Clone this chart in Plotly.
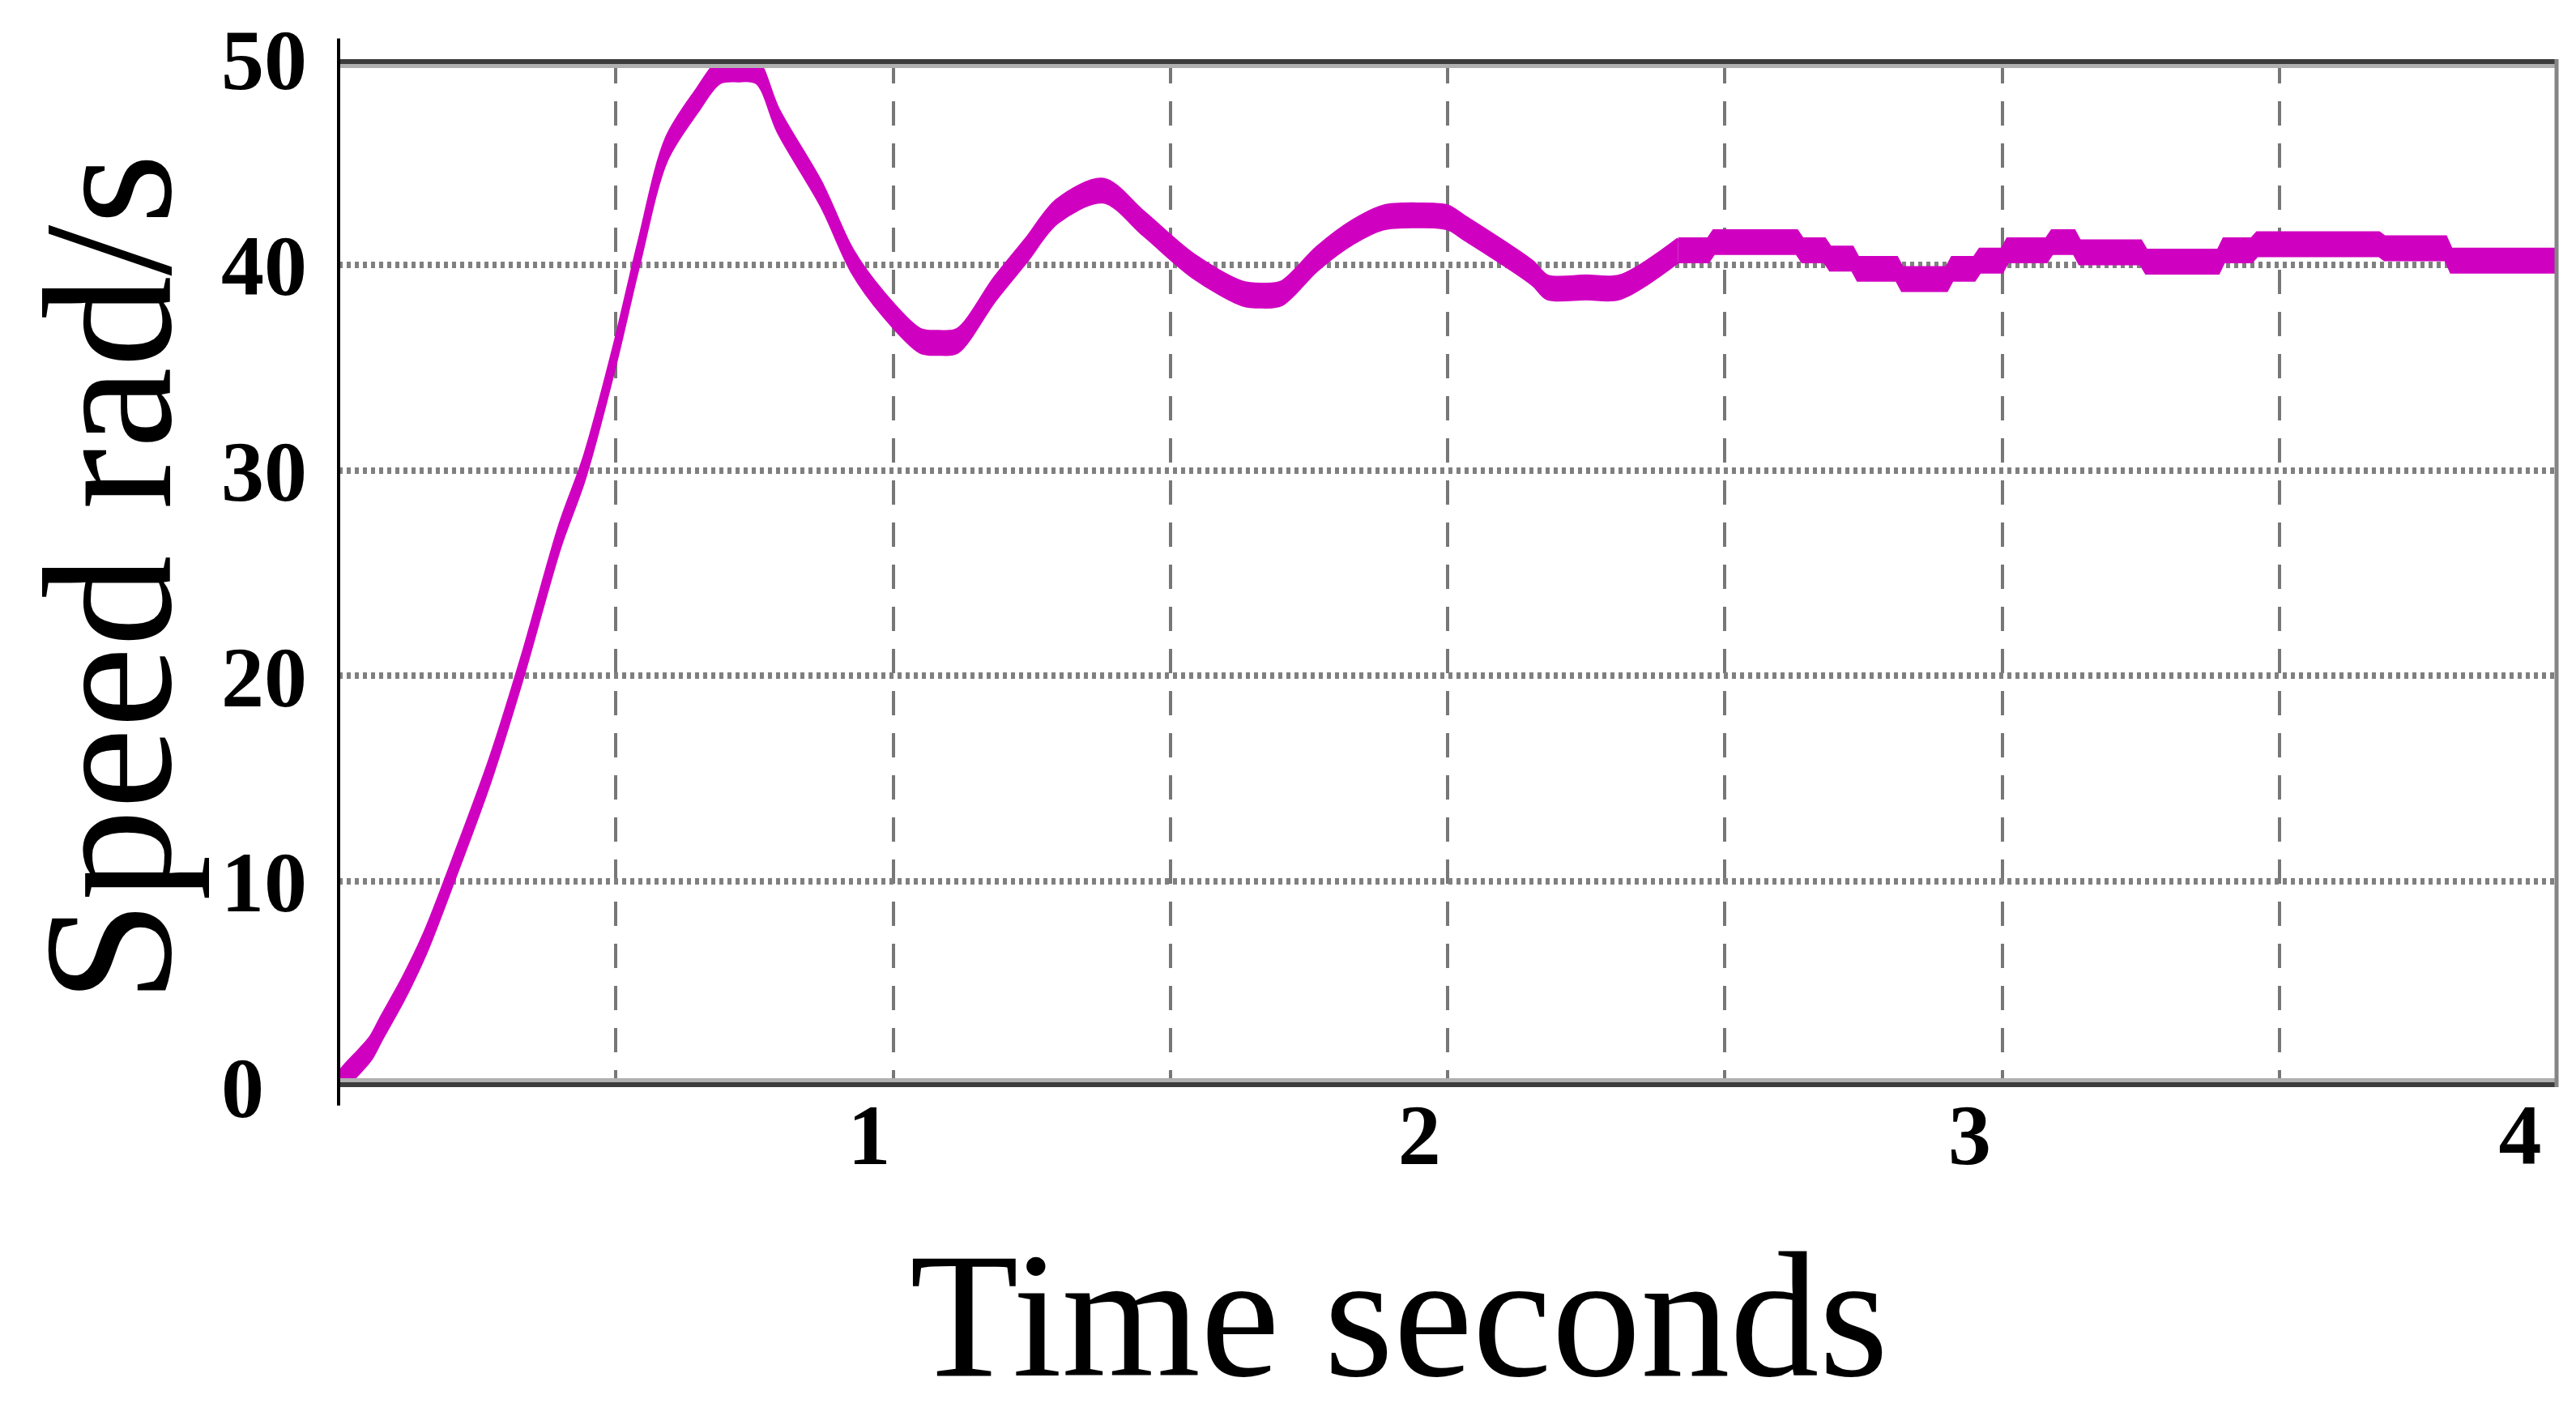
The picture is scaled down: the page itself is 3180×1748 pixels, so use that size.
import plotly.graph_objects as go

# ---- data (time in s, speed in rad/s) ----
time_s = [0.000, 0.005, 0.039, 0.058, 0.078, 0.117, 0.156, 0.209, 0.273, 0.331,
          0.399, 0.443, 0.497, 0.541, 0.591, 0.647, 0.687, 0.720, 0.754, 0.793,
          0.871, 0.926, 0.982, 1.049, 1.082, 1.116, 1.183, 1.240, 1.296, 1.379,
          1.452, 1.541, 1.630, 1.665, 1.700, 1.765, 1.830, 1.885, 1.950, 2.000,
          2.030, 2.153, 2.180, 2.250, 2.310, 2.416, 2.470, 2.480, 2.630, 2.640,
          2.680, 2.690, 2.730, 2.740, 2.810, 2.820, 2.900, 2.910, 2.950, 2.960,
          3.000, 3.010, 3.080, 3.090, 3.130, 3.140, 3.250, 3.260, 3.390, 3.400,
          3.450, 3.460, 3.680, 3.690, 3.800, 3.810, 4.000]
speed = [0.0, 0.3, 1.3, 1.9, 2.9, 4.8, 7.0, 10.7, 15.4, 20.4,
         26.8, 30.1, 35.5, 40.5, 45.6, 48.0, 49.4, 49.5, 49.4, 47.0,
         43.4, 40.2, 38.1, 36.3, 36.2, 36.3, 38.8, 40.7, 42.6, 43.6,
         42.0, 39.95, 38.6, 38.5, 38.6, 40.3, 41.6, 42.3, 42.4, 42.3,
         41.8, 39.6, 38.9, 38.9, 38.9, 40.7, 40.7, 41.1, 41.1, 40.7,
         40.7, 40.3, 40.3, 39.8, 39.8, 39.3, 39.3, 39.8, 39.8, 40.2,
         40.2, 40.7, 40.7, 41.1, 41.1, 40.6, 40.6, 40.15, 40.15, 40.7,
         40.7, 41.0, 41.0, 40.8, 40.8, 40.2, 40.2]

# the smooth transient and the quantised (stepped) tail of the scope trace
SMOOTH_END = 45      # index where the stepped tail begins (t = 2.416 s)

y_tick_vals = [0, 10, 20, 30, 40, 50]
y_tick_text = ["0\u2007", "10", "20", "30", "40", "50"]
x_tick_vals = [1, 2, 3, 4]
x_tick_text = ["1", "2", "3", "4"]
x_title = "Time seconds"
y_title = "Speed rad/s"

# ---- styling ----
MAGENTA = "#D000C0"
BAND = 0.55          # half height of the ripple band drawn round the trace (rad/s)
SERIF = "Liberation Serif, Times New Roman, serif"

speed_lo = [v - BAND for v in speed]
speed_hi = [v + BAND for v in speed]

segments = [
    (slice(0, SMOOTH_END + 1), "spline"),
    (slice(SMOOTH_END, len(time_s)), "linear"),
]

fig = go.Figure()
for sl, shape in segments:
    fig.add_trace(go.Scatter(x=time_s[sl], y=speed_lo[sl], mode="lines",
                             line=dict(color=MAGENTA, width=4, shape=shape, smoothing=0.9),
                             showlegend=False, hoverinfo="skip"))
    fig.add_trace(go.Scatter(x=time_s[sl], y=speed_hi[sl], mode="lines",
                             line=dict(color=MAGENTA, width=4, shape=shape, smoothing=0.9),
                             fill="tonexty", fillcolor=MAGENTA,
                             showlegend=False, name="Speed"))

# carrier for the separate tick-label axis (no visible marks)
fig.add_trace(go.Scatter(x=x_tick_vals, y=[None] * len(x_tick_vals), xaxis="x2",
                         mode="markers", showlegend=False, hoverinfo="skip"))

grid_v = dict(gridcolor="#777777", gridwidth=4, griddash="30px,22px")

fig.update_layout(
    width=3180, height=1748,
    margin=dict(l=410, r=32, t=65, b=414),
    paper_bgcolor="white", plot_bgcolor="white",
    showlegend=False,
    xaxis=dict(
        range=[0, 4], tickmode="array", tickvals=x_tick_vals,
        showticklabels=False, showgrid=True, **grid_v,
        minor=dict(dtick=0.5, tick0=0, showgrid=True, ticks="", **grid_v),
        zeroline=False, showline=False, ticks="",
        automargin=False,
    ),
    xaxis2=dict(
        overlaying="x", anchor="y", side="bottom",
        range=[0.0358, 4.0664], tickmode="array", tickvals=x_tick_vals, ticktext=x_tick_text,
        showgrid=False, zeroline=False, showline=False, ticks="",
        ticklabelstandoff=-12,
        tickfont=dict(family=SERIF, size=106, color="black", weight="bold"),
        automargin=False,
    ),
    yaxis=dict(
        range=[0, 50], tickmode="array", tickvals=y_tick_vals, ticktext=y_tick_text,
        showgrid=True, gridcolor="#808080", gridwidth=8, griddash="5px,5px",
        zeroline=False, showline=False, ticks="",
        ticklabelstandoff=38,
        tickfont=dict(family=SERIF, size=106, color="black", weight="bold"),
        automargin=False,
    ),
    annotations=[
        dict(text=x_title, xref="paper", yref="paper", x=0.478, y=-0.2220,
             xanchor="center", yanchor="middle", showarrow=False,
             font=dict(family=SERIF, size=220, color="black")),
        dict(text=y_title, xref="paper", yref="paper", x=-0.1038, y=0.4949,
             xanchor="center", yanchor="middle", textangle=-90, showarrow=False,
             font=dict(family=SERIF, size=226, color="black")),
    ],
    shapes=[
        dict(type="line", xref="paper", yref="y", x0=0, x1=1, y0=50, y1=50,
             line=dict(color="#b0b0b0", width=22), layer="above"),
        dict(type="line", xref="paper", yref="y", x0=0, x1=1, y0=50, y1=50,
             line=dict(color="#3c3c3c", width=12), layer="above"),
        dict(type="line", xref="paper", yref="y", x0=0, x1=1, y0=0, y1=0,
             line=dict(color="#b0b0b0", width=22), layer="above"),
        dict(type="line", xref="paper", yref="y", x0=0, x1=1, y0=0, y1=0,
             line=dict(color="#3c3c3c", width=12), layer="above"),
        dict(type="line", xref="paper", yref="paper", x0=1, x1=1, y0=0, y1=1,
             line=dict(color="#858585", width=5), layer="above"),
        dict(type="line", xref="paper", yref="paper", x0=0, x1=0, y0=-0.018, y1=1.02,
             line=dict(color="black", width=4), layer="above"),
    ],
)

fig.write_html("out.html")
